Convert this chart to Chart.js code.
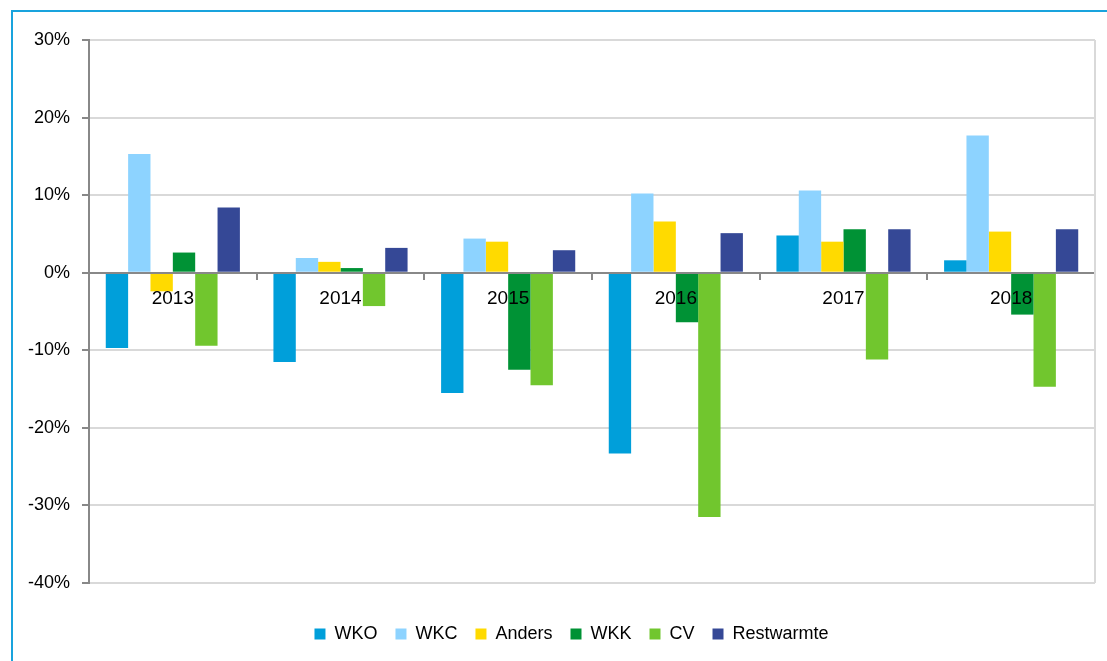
<!DOCTYPE html>
<html>
<head>
<meta charset="utf-8">
<script src="https://cdn.jsdelivr.net/npm/chart.js@4/dist/chart.umd.min.js"></script>
<style>
  html, body { margin: 0; padding: 0; background: #fff; }
  .frame {
    position: absolute; left: 11px; top: 10px; width: 1200px; height: 700px;
    border-top: 2px solid #19a3dd; border-left: 2px solid #19a3dd;
  }
  .wrap { position: absolute; left: 0; top: 0; width: 1107px; height: 661px; }
</style>
</head>
<body>
<div class="frame"></div>
<div class="wrap"><canvas id="myChart" width="1107" height="661"></canvas></div>
<script>
const years = ['2013', '2014', '2015', '2016', '2017', '2018'];

const wko        = [-9.7, -11.5, -15.5, -23.3, 4.8, 1.6];
const wkc        = [15.3, 1.9, 4.4, 10.2, 10.6, 17.7];
const anders     = [-2.4, 1.4, 4.0, 6.6, 4.0, 5.3];
const wkk        = [2.6, 0.6, -12.5, -6.4, 5.6, -5.4];
const cv         = [-9.4, -4.3, -14.5, -31.5, -11.2, -14.7];
const restwarmte = [8.4, 3.2, 2.9, 5.1, 5.6, 5.6];

const yTicks = [-40, -30, -20, -10, 0, 10, 20, 30];

const font = "'Liberation Sans', Arial, sans-serif";

// right border of the plot area + nudge legend a bit to the right like the original
const plotBorder = {
  id: 'plotBorder',
  afterLayout(chart) {
    chart.legend.left += 24;
    chart.legend.right += 24;
  },
  afterDraw(chart) {
    const a = chart.chartArea;
    const ctx = chart.ctx;
    ctx.save();
    ctx.strokeStyle = '#d9d9d9';
    ctx.lineWidth = 2;
    ctx.beginPath();
    ctx.moveTo(a.right, a.top);
    ctx.lineTo(a.right, a.bottom);
    ctx.stroke();
    ctx.restore();
  }
};

const myChart = document.getElementById('myChart');

let globalChart = new Chart(myChart, {
  type: 'bar',
  data: {
    labels: years,
    datasets: [
      { label: 'WKO', data: wko, backgroundColor: '#009fda' },
      { label: 'WKC', data: wkc, backgroundColor: '#8dd3ff' },
      { label: 'Anders', data: anders, backgroundColor: '#ffda00' },
      { label: 'WKK', data: wkk, backgroundColor: '#009235' },
      { label: 'CV', data: cv, backgroundColor: '#71c62e' },
      { label: 'Restwarmte', data: restwarmte, backgroundColor: '#354896' }
    ]
  },
  options: {
    responsive: false,
    animation: false,
    barPercentage: 1,
    categoryPercentage: 0.8,
    layout: { padding: { top: 40, right: 12, left: 0, bottom: 8 } },
    scales: {
      x: {
        position: { y: 0 },
        grid: {
          offset: true,
          drawOnChartArea: false,
          drawTicks: true,
          tickLength: 6,
          tickColor: '#888',
          lineWidth: 2,
          z: 1
        },
        border: { color: '#888', width: 2, z: 1 },
        ticks: {
          z: 1,
          color: '#000',
          padding: 9,
          font: { family: font, size: 19 }
        }
      },
      // empty spacer between plot and legend
      spacer: {
        type: 'category',
        position: 'bottom',
        labels: years,
        afterFit: (scale) => { scale.height = 24; },
        grid: { display: false },
        border: { display: false },
        ticks: { display: false }
      },
      y: {
        min: -40,
        max: 30,
        afterBuildTicks: (scale) => { scale.ticks = yTicks.map(v => ({ value: v })); },
        afterFit: (scale) => { scale.width = 89; },
        grid: {
          color: '#d9d9d9',
          lineWidth: 2,
          tickColor: '#888',
          tickLength: 7
        },
        border: { color: '#888', width: 2 },
        ticks: {
          color: '#000',
          padding: 12,
          font: { family: font, size: 18 },
          callback: (v) => v + '%'
        }
      }
    },
    plugins: {
      legend: {
        position: 'bottom',
        labels: {
          color: '#000',
          boxWidth: 11,
          boxHeight: 11,
          padding: 18,
          font: { family: font, size: 18 }
        }
      },
      tooltip: { enabled: false }
    }
  },
  plugins: [plotBorder]
});
</script>
</body>
</html>
